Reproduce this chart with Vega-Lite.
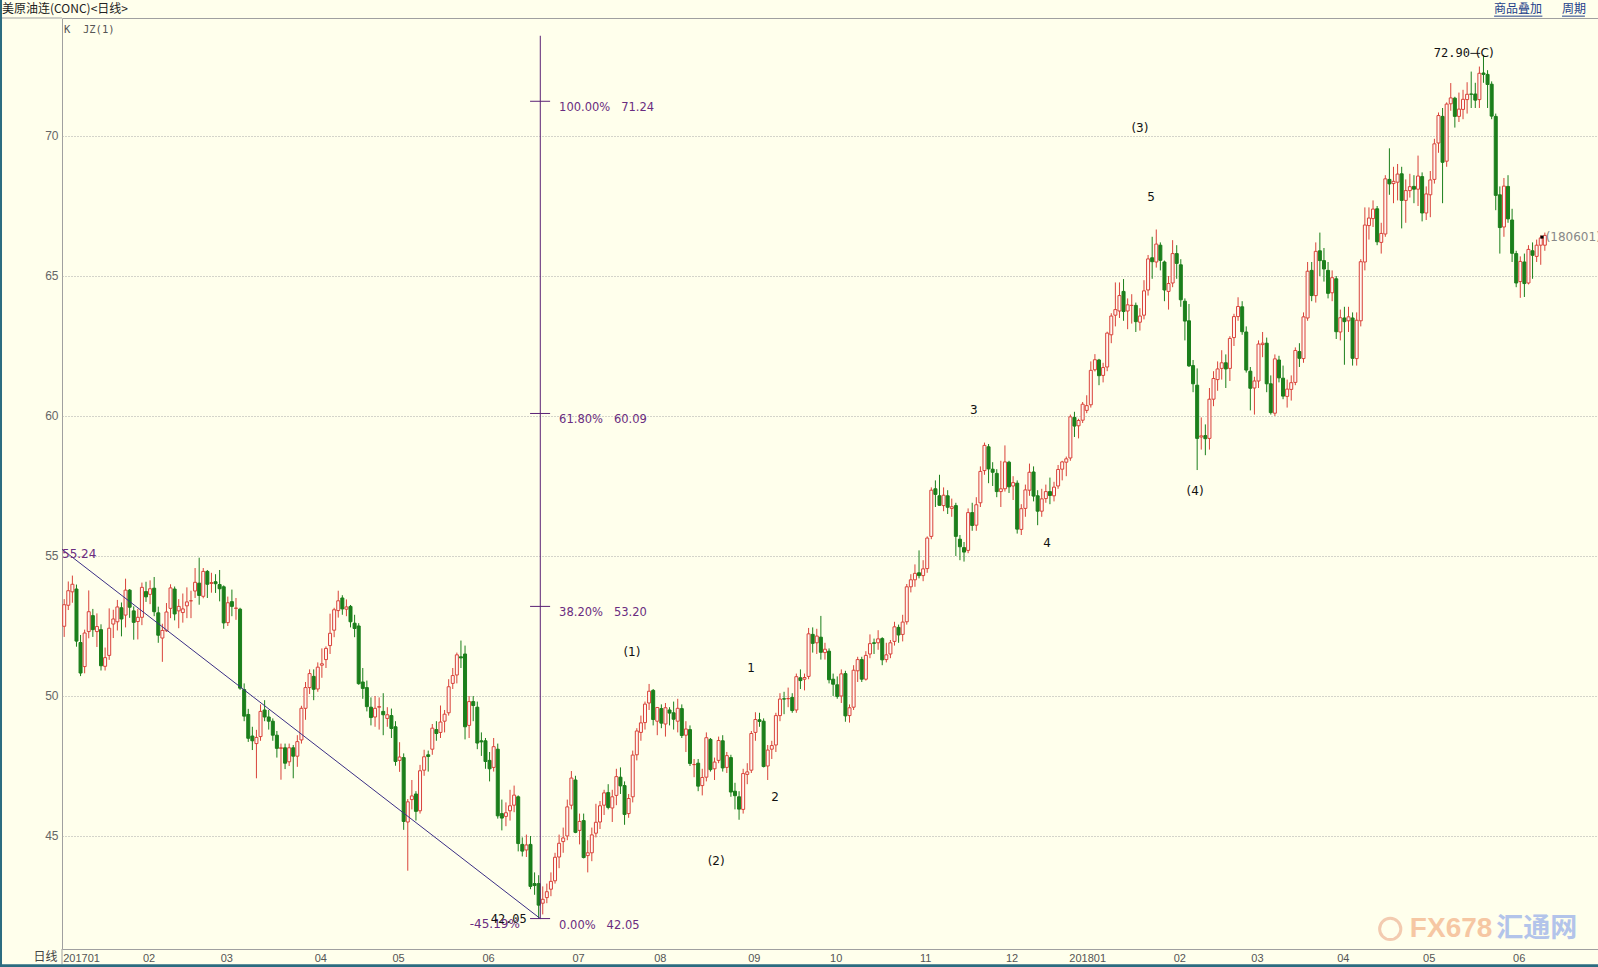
{
"$schema":"https://vega.github.io/schema/vega-lite/v6.json",
"width":1536,"height":931,
"autosize":{"type":"none"},
"padding":{"left":62,"top":18,"right":0,"bottom":18},
"background":"#FFFFEC",
"config":{"view":{"stroke":"#A0A0A0","strokeWidth":1},"axis":{"domain":false,"ticks":false}},
"datasets":{
"k":[
{"i":0,"o":52.49,"h":53.46,"l":52.11,"c":53.26},{"i":1,"o":53.24,"h":54.09,"l":53.07,"c":53.76},{"i":2,"o":53.72,"h":54.30,"l":53.33,"c":53.99},{"i":3,"o":53.82,"h":53.98,"l":51.76,"c":51.96},{"i":4,"o":51.91,"h":52.18,"l":50.71,"c":50.82},{"i":5,"o":51.05,"h":52.37,"l":50.81,"c":52.25},{"i":6,"o":52.30,"h":53.77,"l":52.06,"c":53.01},{"i":7,"o":52.87,"h":53.11,"l":52.11,"c":52.37},{"i":8,"o":52.30,"h":52.95,"l":51.75,"c":52.48},{"i":9,"o":52.37,"h":52.56,"l":50.91,"c":51.08},
{"i":10,"o":51.06,"h":51.73,"l":50.91,"c":51.37},{"i":11,"o":51.45,"h":53.13,"l":51.29,"c":52.42},{"i":12,"o":52.57,"h":53.08,"l":52.07,"c":52.75},{"i":13,"o":52.65,"h":53.43,"l":52.34,"c":53.18},{"i":14,"o":53.15,"h":53.34,"l":52.13,"c":52.75},{"i":15,"o":52.89,"h":54.19,"l":52.45,"c":53.78},{"i":16,"o":53.78,"h":53.82,"l":52.79,"c":53.17},{"i":17,"o":53.04,"h":53.20,"l":52.01,"c":52.63},{"i":18,"o":52.66,"h":53.11,"l":52.02,"c":52.81},{"i":19,"o":52.81,"h":54.05,"l":52.53,"c":53.88},
{"i":20,"o":53.73,"h":54.08,"l":53.36,"c":53.54},{"i":21,"o":53.63,"h":54.13,"l":53.28,"c":53.83},{"i":22,"o":53.85,"h":54.25,"l":52.85,"c":53.01},{"i":23,"o":52.97,"h":53.19,"l":51.90,"c":52.17},{"i":24,"o":52.07,"h":52.58,"l":51.22,"c":52.34},{"i":25,"o":52.33,"h":53.32,"l":52.29,"c":53.00},{"i":26,"o":53.13,"h":53.99,"l":52.78,"c":53.86},{"i":27,"o":53.82,"h":53.91,"l":52.70,"c":52.93},{"i":28,"o":53.04,"h":53.46,"l":52.42,"c":53.20},{"i":29,"o":52.98,"h":53.66,"l":52.62,"c":53.11},
{"i":30,"o":53.22,"h":53.88,"l":52.78,"c":53.36},{"i":31,"o":53.40,"h":53.76,"l":52.78,"c":53.40},{"i":32,"o":53.75,"h":54.57,"l":53.50,"c":54.06},{"i":33,"o":54.03,"h":54.94,"l":53.26,"c":53.59},{"i":34,"o":53.56,"h":54.57,"l":53.49,"c":54.45},{"i":35,"o":54.45,"h":54.50,"l":53.50,"c":53.99},{"i":36,"o":54.02,"h":54.40,"l":53.69,"c":54.05},{"i":37,"o":54.08,"h":54.35,"l":53.68,"c":54.01},{"i":38,"o":53.98,"h":54.50,"l":53.38,"c":53.83},{"i":39,"o":53.90,"h":53.95,"l":52.40,"c":52.61},
{"i":40,"o":52.62,"h":53.55,"l":52.50,"c":53.33},{"i":41,"o":53.37,"h":53.80,"l":52.85,"c":53.20},{"i":42,"o":53.13,"h":53.50,"l":52.72,"c":53.14},{"i":43,"o":53.10,"h":53.15,"l":50.22,"c":50.28},{"i":44,"o":50.23,"h":50.45,"l":49.10,"c":49.28},{"i":45,"o":49.34,"h":49.54,"l":48.36,"c":48.49},{"i":46,"o":48.57,"h":48.90,"l":48.07,"c":48.40},{"i":47,"o":48.30,"h":48.79,"l":47.06,"c":48.52},{"i":48,"o":48.55,"h":49.70,"l":48.40,"c":49.45},{"i":49,"o":49.50,"h":49.85,"l":49.10,"c":49.25},
{"i":50,"o":49.25,"h":49.50,"l":48.80,"c":49.10},{"i":51,"o":49.10,"h":49.20,"l":48.40,"c":48.60},{"i":52,"o":48.60,"h":48.75,"l":47.80,"c":48.13},{"i":53,"o":48.13,"h":48.30,"l":47.01,"c":48.15},{"i":54,"o":48.15,"h":48.30,"l":47.39,"c":47.60},{"i":55,"o":47.65,"h":48.30,"l":47.50,"c":48.15},{"i":56,"o":48.15,"h":48.25,"l":47.06,"c":47.85},{"i":57,"o":47.85,"h":48.60,"l":47.47,"c":48.37},{"i":58,"o":48.43,"h":49.65,"l":48.30,"c":49.56},{"i":59,"o":49.56,"h":50.50,"l":49.15,"c":50.30},
{"i":60,"o":50.30,"h":50.95,"l":50.07,"c":50.80},{"i":61,"o":50.70,"h":50.95,"l":49.85,"c":50.24},{"i":62,"o":50.25,"h":51.20,"l":50.15,"c":51.03},{"i":63,"o":51.10,"h":51.70,"l":50.65,"c":51.15},{"i":64,"o":51.30,"h":51.77,"l":51.00,"c":51.70},{"i":65,"o":51.80,"h":52.94,"l":51.50,"c":52.24},{"i":66,"o":52.35,"h":53.15,"l":52.10,"c":53.08},{"i":67,"o":53.05,"h":53.76,"l":52.80,"c":53.40},{"i":68,"o":53.50,"h":53.60,"l":52.90,"c":53.11},{"i":69,"o":53.10,"h":53.45,"l":52.85,"c":53.18},
{"i":70,"o":53.20,"h":53.25,"l":52.45,"c":52.65},{"i":71,"o":52.60,"h":52.90,"l":52.10,"c":52.41},{"i":72,"o":52.50,"h":52.60,"l":50.40,"c":50.44},{"i":73,"o":50.50,"h":51.00,"l":49.90,"c":50.27},{"i":74,"o":50.30,"h":50.55,"l":49.45,"c":49.62},{"i":75,"o":49.60,"h":49.95,"l":48.95,"c":49.23},{"i":76,"o":49.25,"h":50.00,"l":48.90,"c":49.56},{"i":77,"o":49.60,"h":49.95,"l":48.80,"c":49.62},{"i":78,"o":49.45,"h":50.10,"l":48.60,"c":49.33},{"i":79,"o":49.20,"h":49.60,"l":48.90,"c":49.33},
{"i":80,"o":49.30,"h":49.55,"l":48.50,"c":48.84},{"i":81,"o":48.90,"h":49.10,"l":47.51,"c":47.66},{"i":82,"o":47.70,"h":48.35,"l":47.29,"c":47.82},{"i":83,"o":47.80,"h":47.95,"l":45.22,"c":45.52},{"i":84,"o":45.50,"h":46.32,"l":43.76,"c":46.22},{"i":85,"o":46.30,"h":47.00,"l":45.95,"c":46.43},{"i":86,"o":46.50,"h":46.60,"l":45.55,"c":45.88},{"i":87,"o":45.90,"h":47.54,"l":45.80,"c":47.33},{"i":88,"o":47.35,"h":48.08,"l":47.15,"c":47.83},{"i":89,"o":47.90,"h":48.05,"l":47.30,"c":47.84},
{"i":90,"o":48.10,"h":49.00,"l":47.90,"c":48.85},{"i":91,"o":48.80,"h":49.10,"l":48.40,"c":48.66},{"i":92,"o":48.70,"h":49.66,"l":48.50,"c":49.07},{"i":93,"o":49.10,"h":49.50,"l":48.70,"c":49.35},{"i":94,"o":49.40,"h":50.60,"l":49.30,"c":50.33},{"i":95,"o":50.45,"h":51.00,"l":50.25,"c":50.73},{"i":96,"o":50.75,"h":51.55,"l":50.45,"c":51.47},{"i":97,"o":51.40,"h":51.98,"l":51.00,"c":51.36},{"i":98,"o":51.50,"h":51.80,"l":48.45,"c":48.90},{"i":99,"o":48.95,"h":50.00,"l":48.50,"c":49.80},
{"i":100,"o":49.80,"h":50.00,"l":49.10,"c":49.66},{"i":101,"o":49.60,"h":49.80,"l":48.10,"c":48.32},{"i":102,"o":48.40,"h":48.70,"l":47.86,"c":48.36},{"i":103,"o":48.40,"h":48.50,"l":47.40,"c":47.66},{"i":104,"o":47.70,"h":48.00,"l":46.95,"c":47.40},{"i":105,"o":47.45,"h":48.50,"l":47.30,"c":48.19},{"i":106,"o":48.10,"h":48.30,"l":45.62,"c":45.72},{"i":107,"o":45.80,"h":46.30,"l":45.20,"c":45.64},{"i":108,"o":45.70,"h":46.20,"l":45.35,"c":45.83},{"i":109,"o":45.90,"h":46.65,"l":45.55,"c":46.08},
{"i":110,"o":46.10,"h":46.80,"l":45.85,"c":46.46},{"i":111,"o":46.40,"h":46.45,"l":44.45,"c":44.73},{"i":112,"o":44.70,"h":44.95,"l":44.27,"c":44.46},{"i":113,"o":44.50,"h":45.05,"l":44.25,"c":44.68},{"i":114,"o":44.70,"h":45.00,"l":43.10,"c":43.20},{"i":115,"o":43.30,"h":43.70,"l":42.90,"c":43.23},{"i":116,"o":43.30,"h":43.60,"l":42.05,"c":42.53},{"i":117,"o":42.60,"h":43.20,"l":42.20,"c":42.74},{"i":118,"o":42.80,"h":43.30,"l":42.60,"c":43.01},{"i":119,"o":43.10,"h":43.70,"l":42.85,"c":43.38},
{"i":120,"o":43.40,"h":44.40,"l":43.30,"c":44.24},{"i":121,"o":44.25,"h":45.05,"l":43.85,"c":44.74},{"i":122,"o":44.80,"h":45.30,"l":44.40,"c":44.93},{"i":123,"o":45.00,"h":46.30,"l":44.85,"c":46.04},{"i":124,"o":46.10,"h":47.32,"l":45.95,"c":47.07},{"i":125,"o":47.00,"h":47.15,"l":45.10,"c":45.13},{"i":126,"o":45.20,"h":45.80,"l":44.70,"c":45.52},{"i":127,"o":45.55,"h":45.80,"l":44.20,"c":44.23},{"i":128,"o":44.30,"h":44.85,"l":43.70,"c":44.40},{"i":129,"o":44.40,"h":45.30,"l":44.10,"c":45.04},
{"i":130,"o":45.10,"h":46.15,"l":44.95,"c":45.49},{"i":131,"o":45.50,"h":46.25,"l":45.25,"c":46.08},{"i":132,"o":46.10,"h":46.65,"l":45.75,"c":46.54},{"i":133,"o":46.55,"h":46.85,"l":45.95,"c":46.02},{"i":134,"o":46.00,"h":46.65,"l":45.50,"c":46.40},{"i":135,"o":46.45,"h":47.40,"l":46.10,"c":47.12},{"i":136,"o":47.10,"h":47.45,"l":46.50,"c":46.79},{"i":137,"o":46.80,"h":46.95,"l":45.40,"c":45.77},{"i":138,"o":45.80,"h":46.50,"l":45.65,"c":46.34},{"i":139,"o":46.40,"h":48.05,"l":46.20,"c":47.89},
{"i":140,"o":47.90,"h":48.85,"l":47.70,"c":48.75},{"i":141,"o":48.70,"h":49.30,"l":48.40,"c":49.04},{"i":142,"o":49.05,"h":49.80,"l":48.80,"c":49.71},{"i":143,"o":49.75,"h":50.43,"l":49.50,"c":50.17},{"i":144,"o":50.20,"h":50.25,"l":48.95,"c":49.16},{"i":145,"o":49.10,"h":49.60,"l":48.60,"c":49.59},{"i":146,"o":49.55,"h":49.70,"l":48.85,"c":49.03},{"i":147,"o":49.00,"h":49.75,"l":48.55,"c":49.58},{"i":148,"o":49.50,"h":49.60,"l":48.95,"c":49.39},{"i":149,"o":49.40,"h":49.80,"l":48.80,"c":49.17},
{"i":150,"o":49.10,"h":49.90,"l":48.70,"c":49.56},{"i":151,"o":49.55,"h":49.70,"l":48.50,"c":48.59},{"i":152,"o":48.60,"h":49.10,"l":48.00,"c":48.82},{"i":153,"o":48.80,"h":48.95,"l":47.50,"c":47.59},{"i":154,"o":47.55,"h":47.75,"l":47.10,"c":47.55},{"i":155,"o":47.60,"h":47.75,"l":46.60,"c":46.78},{"i":156,"o":46.80,"h":47.40,"l":46.45,"c":47.09},{"i":157,"o":47.10,"h":48.70,"l":46.95,"c":48.51},{"i":158,"o":48.45,"h":48.50,"l":47.30,"c":47.37},{"i":159,"o":47.40,"h":47.80,"l":47.00,"c":47.64},
{"i":160,"o":47.70,"h":48.55,"l":47.60,"c":48.41},{"i":161,"o":48.40,"h":48.60,"l":47.30,"c":47.43},{"i":162,"o":47.45,"h":48.00,"l":47.25,"c":47.87},{"i":163,"o":47.80,"h":47.90,"l":46.40,"c":46.57},{"i":164,"o":46.60,"h":46.90,"l":45.95,"c":46.44},{"i":165,"o":46.40,"h":46.60,"l":45.58,"c":45.96},{"i":166,"o":45.95,"h":47.40,"l":45.80,"c":47.23},{"i":167,"o":47.20,"h":47.60,"l":46.85,"c":47.29},{"i":168,"o":47.35,"h":48.75,"l":47.25,"c":48.66},{"i":169,"o":48.70,"h":49.42,"l":48.40,"c":49.16},
{"i":170,"o":49.15,"h":49.40,"l":48.90,"c":49.09},{"i":171,"o":49.10,"h":49.20,"l":47.45,"c":47.48},{"i":172,"o":47.50,"h":48.25,"l":47.00,"c":48.07},{"i":173,"o":48.10,"h":48.40,"l":47.75,"c":48.23},{"i":174,"o":48.25,"h":49.40,"l":48.00,"c":49.30},{"i":175,"o":49.30,"h":50.10,"l":49.10,"c":49.89},{"i":176,"o":49.90,"h":50.15,"l":49.35,"c":49.89},{"i":177,"o":49.90,"h":50.30,"l":49.60,"c":49.91},{"i":178,"o":49.95,"h":50.10,"l":49.40,"c":49.48},{"i":179,"o":49.50,"h":50.80,"l":49.40,"c":50.69},
{"i":180,"o":50.65,"h":50.95,"l":50.25,"c":50.55},{"i":181,"o":50.60,"h":50.80,"l":50.20,"c":50.66},{"i":182,"o":50.70,"h":52.43,"l":50.60,"c":52.22},{"i":183,"o":52.20,"h":52.45,"l":51.55,"c":51.88},{"i":184,"o":51.90,"h":52.40,"l":51.50,"c":52.14},{"i":185,"o":52.10,"h":52.86,"l":51.30,"c":51.56},{"i":186,"o":51.55,"h":51.90,"l":51.30,"c":51.67},{"i":187,"o":51.60,"h":51.70,"l":50.45,"c":50.58},{"i":188,"o":50.60,"h":50.80,"l":50.00,"c":50.42},{"i":189,"o":50.40,"h":50.70,"l":49.90,"c":49.98},
{"i":190,"o":50.00,"h":50.95,"l":49.75,"c":50.79},{"i":191,"o":50.80,"h":50.90,"l":49.08,"c":49.29},{"i":192,"o":49.30,"h":49.70,"l":49.05,"c":49.58},{"i":193,"o":49.60,"h":51.10,"l":49.50,"c":50.92},{"i":194,"o":50.90,"h":51.40,"l":50.50,"c":51.30},{"i":195,"o":51.30,"h":51.40,"l":50.50,"c":50.60},{"i":196,"o":50.60,"h":51.60,"l":50.55,"c":51.45},{"i":197,"o":51.50,"h":52.20,"l":51.35,"c":51.87},{"i":198,"o":51.90,"h":52.05,"l":51.50,"c":51.88},{"i":199,"o":51.90,"h":52.35,"l":51.65,"c":52.04},
{"i":200,"o":52.05,"h":52.10,"l":51.10,"c":51.29},{"i":201,"o":51.30,"h":51.90,"l":51.20,"c":51.47},{"i":202,"o":51.50,"h":52.00,"l":51.35,"c":51.90},{"i":203,"o":51.95,"h":52.65,"l":51.80,"c":52.47},{"i":204,"o":52.45,"h":52.55,"l":51.90,"c":52.18},{"i":205,"o":52.20,"h":52.90,"l":51.95,"c":52.64},{"i":206,"o":52.65,"h":54.00,"l":52.55,"c":53.90},{"i":207,"o":53.90,"h":54.35,"l":53.70,"c":54.15},{"i":208,"o":54.15,"h":54.70,"l":53.90,"c":54.38},{"i":209,"o":54.40,"h":55.20,"l":54.20,"c":54.30},
{"i":210,"o":54.30,"h":54.85,"l":54.10,"c":54.54},{"i":211,"o":54.55,"h":55.70,"l":54.40,"c":55.64},{"i":212,"o":55.70,"h":57.45,"l":55.60,"c":57.35},{"i":213,"o":57.40,"h":57.70,"l":56.75,"c":57.20},{"i":214,"o":57.15,"h":57.90,"l":56.80,"c":56.81},{"i":215,"o":56.80,"h":57.45,"l":56.60,"c":57.17},{"i":216,"o":57.15,"h":57.35,"l":56.50,"c":56.74},{"i":217,"o":56.70,"h":57.05,"l":56.40,"c":56.76},{"i":218,"o":56.80,"h":56.90,"l":55.00,"c":55.70},{"i":219,"o":55.60,"h":55.75,"l":54.85,"c":55.33},
{"i":220,"o":55.30,"h":55.50,"l":54.80,"c":55.14},{"i":221,"o":55.20,"h":56.70,"l":55.10,"c":56.55},{"i":222,"o":56.55,"h":56.90,"l":55.90,"c":56.09},{"i":223,"o":56.10,"h":57.10,"l":55.90,"c":56.83},{"i":224,"o":56.90,"h":58.20,"l":56.75,"c":58.02},{"i":225,"o":58.05,"h":59.05,"l":57.90,"c":58.95},{"i":226,"o":58.90,"h":59.00,"l":57.60,"c":58.11},{"i":227,"o":58.10,"h":58.35,"l":57.50,"c":57.99},{"i":228,"o":57.95,"h":58.10,"l":57.10,"c":57.30},{"i":229,"o":57.30,"h":58.40,"l":56.75,"c":57.40},
{"i":230,"o":57.40,"h":58.95,"l":57.30,"c":58.36},{"i":231,"o":58.35,"h":58.40,"l":57.25,"c":57.47},{"i":232,"o":57.50,"h":57.85,"l":57.00,"c":57.62},{"i":233,"o":57.60,"h":57.70,"l":55.80,"c":55.96},{"i":234,"o":55.95,"h":56.85,"l":55.75,"c":56.69},{"i":235,"o":56.70,"h":57.55,"l":56.40,"c":57.36},{"i":236,"o":57.35,"h":58.30,"l":57.15,"c":57.99},{"i":237,"o":58.00,"h":58.20,"l":56.95,"c":57.14},{"i":238,"o":57.15,"h":57.35,"l":56.10,"c":56.60},{"i":239,"o":56.60,"h":57.40,"l":56.40,"c":57.04},
{"i":240,"o":57.05,"h":57.55,"l":56.90,"c":57.30},{"i":241,"o":57.30,"h":57.80,"l":56.85,"c":57.16},{"i":242,"o":57.15,"h":57.65,"l":56.95,"c":57.46},{"i":243,"o":57.50,"h":58.25,"l":57.40,"c":58.09},{"i":244,"o":58.10,"h":58.40,"l":57.70,"c":58.36},{"i":245,"o":58.35,"h":58.55,"l":57.85,"c":58.47},{"i":246,"o":58.50,"h":60.05,"l":58.40,"c":59.97},{"i":247,"o":59.95,"h":60.15,"l":59.25,"c":59.64},{"i":248,"o":59.65,"h":59.90,"l":59.20,"c":59.84},{"i":249,"o":59.85,"h":60.50,"l":59.75,"c":60.42},
{"i":250,"o":60.20,"h":60.74,"l":60.10,"c":60.37},{"i":251,"o":60.40,"h":61.95,"l":60.30,"c":61.63},{"i":252,"o":61.65,"h":62.21,"l":61.59,"c":62.01},{"i":253,"o":62.00,"h":62.04,"l":61.10,"c":61.44},{"i":254,"o":61.45,"h":61.90,"l":61.20,"c":61.73},{"i":255,"o":61.75,"h":63.01,"l":61.60,"c":62.96},{"i":256,"o":62.90,"h":63.67,"l":62.60,"c":63.57},{"i":257,"o":63.60,"h":64.77,"l":63.20,"c":63.80},{"i":258,"o":63.75,"h":64.77,"l":63.50,"c":64.30},{"i":259,"o":64.45,"h":64.89,"l":63.40,"c":63.73},
{"i":260,"o":63.75,"h":64.20,"l":63.10,"c":63.97},{"i":261,"o":63.95,"h":64.35,"l":63.30,"c":63.95},{"i":262,"o":63.95,"h":64.05,"l":63.00,"c":63.37},{"i":263,"o":63.35,"h":63.85,"l":63.05,"c":63.57},{"i":264,"o":63.60,"h":64.85,"l":63.45,"c":64.47},{"i":265,"o":64.50,"h":65.75,"l":64.30,"c":65.61},{"i":266,"o":65.65,"h":66.40,"l":64.90,"c":65.51},{"i":267,"o":65.50,"h":66.66,"l":65.30,"c":66.14},{"i":268,"o":66.10,"h":66.20,"l":65.20,"c":65.56},{"i":269,"o":65.50,"h":65.55,"l":64.10,"c":64.50},
{"i":270,"o":64.45,"h":65.00,"l":63.80,"c":64.73},{"i":271,"o":64.75,"h":66.28,"l":64.60,"c":65.80},{"i":272,"o":65.80,"h":66.10,"l":64.90,"c":65.45},{"i":273,"o":65.40,"h":65.60,"l":63.90,"c":64.15},{"i":274,"o":64.10,"h":64.20,"l":62.70,"c":63.39},{"i":275,"o":63.40,"h":64.00,"l":61.75,"c":61.79},{"i":276,"o":61.80,"h":62.00,"l":60.85,"c":61.15},{"i":277,"o":61.10,"h":61.70,"l":58.07,"c":59.20},{"i":278,"o":59.25,"h":59.95,"l":58.80,"c":59.29},{"i":279,"o":59.30,"h":59.70,"l":58.60,"c":59.19},
{"i":280,"o":59.20,"h":61.00,"l":58.80,"c":60.60},{"i":281,"o":60.60,"h":61.60,"l":60.35,"c":61.34},{"i":282,"o":61.30,"h":61.95,"l":60.90,"c":61.68},{"i":283,"o":61.70,"h":62.35,"l":61.30,"c":61.90},{"i":284,"o":61.90,"h":62.20,"l":61.00,"c":61.68},{"i":285,"o":61.70,"h":62.85,"l":61.25,"c":62.77},{"i":286,"o":62.80,"h":63.65,"l":62.50,"c":63.55},{"i":287,"o":63.55,"h":64.24,"l":63.40,"c":63.91},{"i":288,"o":63.90,"h":64.10,"l":62.90,"c":63.01},{"i":289,"o":63.00,"h":63.20,"l":61.55,"c":61.64},
{"i":290,"o":61.60,"h":61.75,"l":60.20,"c":60.99},{"i":291,"o":61.00,"h":61.40,"l":60.05,"c":61.25},{"i":292,"o":61.25,"h":62.70,"l":61.00,"c":62.57},{"i":293,"o":62.55,"h":63.00,"l":62.10,"c":62.60},{"i":294,"o":62.60,"h":62.80,"l":60.85,"c":61.15},{"i":295,"o":61.15,"h":61.45,"l":60.05,"c":60.12},{"i":296,"o":60.10,"h":62.20,"l":60.00,"c":62.04},{"i":297,"o":62.00,"h":62.15,"l":61.20,"c":61.36},{"i":298,"o":61.35,"h":61.80,"l":60.60,"c":60.71},{"i":299,"o":60.70,"h":61.30,"l":60.30,"c":60.96},
{"i":300,"o":60.95,"h":61.45,"l":60.55,"c":61.19},{"i":301,"o":61.20,"h":62.45,"l":61.10,"c":62.34},{"i":302,"o":62.30,"h":62.60,"l":61.75,"c":62.06},{"i":303,"o":62.05,"h":63.70,"l":61.90,"c":63.54},{"i":304,"o":63.50,"h":65.50,"l":63.40,"c":65.17},{"i":305,"o":65.20,"h":65.50,"l":64.10,"c":64.30},{"i":306,"o":64.30,"h":66.20,"l":64.05,"c":65.88},{"i":307,"o":65.90,"h":66.55,"l":65.00,"c":65.55},{"i":308,"o":65.55,"h":66.00,"l":64.80,"c":65.25},{"i":309,"o":65.20,"h":65.50,"l":64.20,"c":64.38},
{"i":310,"o":64.40,"h":65.20,"l":64.10,"c":64.94},{"i":311,"o":64.90,"h":65.00,"l":62.75,"c":63.01},{"i":312,"o":63.00,"h":63.80,"l":62.70,"c":63.51},{"i":313,"o":63.50,"h":63.90,"l":61.83,"c":63.37},{"i":314,"o":63.40,"h":63.90,"l":63.00,"c":63.54},{"i":315,"o":63.50,"h":63.70,"l":61.80,"c":62.06},{"i":316,"o":62.05,"h":63.70,"l":61.80,"c":63.42},{"i":317,"o":63.40,"h":65.60,"l":63.20,"c":65.51},{"i":318,"o":65.50,"h":67.45,"l":65.20,"c":66.82},{"i":319,"o":66.80,"h":67.45,"l":66.30,"c":67.07},
{"i":320,"o":67.05,"h":67.70,"l":66.75,"c":67.39},{"i":321,"o":67.40,"h":67.50,"l":66.10,"c":66.22},{"i":322,"o":66.20,"h":66.90,"l":65.80,"c":66.52},{"i":323,"o":66.50,"h":68.60,"l":66.40,"c":68.47},{"i":324,"o":68.45,"h":69.56,"l":67.90,"c":68.29},{"i":325,"o":68.30,"h":68.90,"l":67.60,"c":68.38},{"i":326,"o":68.35,"h":69.00,"l":67.70,"c":68.64},{"i":327,"o":68.65,"h":68.90,"l":66.70,"c":67.70},{"i":328,"o":67.70,"h":68.45,"l":66.90,"c":68.05},{"i":329,"o":68.05,"h":68.65,"l":67.80,"c":68.19},
{"i":330,"o":68.20,"h":68.60,"l":67.60,"c":68.10},{"i":331,"o":68.10,"h":69.30,"l":67.50,"c":68.57},{"i":332,"o":68.55,"h":68.70,"l":66.95,"c":67.25},{"i":333,"o":67.25,"h":68.20,"l":67.00,"c":67.93},{"i":334,"o":67.90,"h":68.75,"l":67.10,"c":68.43},{"i":335,"o":68.45,"h":69.90,"l":68.30,"c":69.72},{"i":336,"o":69.75,"h":70.84,"l":69.40,"c":70.73},{"i":337,"o":70.70,"h":71.00,"l":67.60,"c":69.06},{"i":338,"o":69.10,"h":71.20,"l":68.90,"c":71.14},{"i":339,"o":71.15,"h":71.89,"l":70.90,"c":71.36},
{"i":340,"o":71.35,"h":71.40,"l":70.30,"c":70.70},{"i":341,"o":70.70,"h":71.55,"l":70.50,"c":70.96},{"i":342,"o":70.95,"h":71.65,"l":70.60,"c":71.31},{"i":343,"o":71.30,"h":71.92,"l":70.80,"c":71.49},{"i":344,"o":71.50,"h":72.30,"l":71.00,"c":71.49},{"i":345,"o":71.50,"h":71.90,"l":71.00,"c":71.28},{"i":346,"o":71.30,"h":72.48,"l":71.00,"c":72.24},{"i":347,"o":72.25,"h":72.90,"l":71.90,"c":72.20},{"i":348,"o":72.20,"h":72.35,"l":71.00,"c":71.84},{"i":349,"o":71.85,"h":71.95,"l":70.60,"c":70.71},
{"i":350,"o":70.70,"h":70.80,"l":67.35,"c":67.88},{"i":351,"o":67.90,"h":68.20,"l":65.80,"c":66.73},{"i":352,"o":66.75,"h":68.50,"l":66.40,"c":68.21},{"i":353,"o":68.20,"h":68.60,"l":66.90,"c":67.04},{"i":354,"o":67.00,"h":67.40,"l":65.50,"c":65.81},{"i":355,"o":65.80,"h":65.90,"l":64.60,"c":64.75},{"i":356,"o":64.80,"h":65.70,"l":64.22,"c":65.52},{"i":357,"o":65.50,"h":65.80,"l":64.25,"c":64.73},{"i":358,"o":64.75,"h":66.10,"l":64.70,"c":65.95},{"i":359,"o":65.90,"h":66.20,"l":64.90,"c":65.74},
{"i":360,"o":65.70,"h":66.30,"l":65.50,"c":66.10},{"i":361,"o":66.10,"h":66.45,"l":65.40,"c":66.36},{"i":362,"o":66.10,"h":66.55,"l":65.90,"c":66.45}
],
"fib":[{"i":113.9,"i2":118.8,"x":121.0,"p":71.24,"t":"100.00%\u00a0\u00a0\u00a071.24"},{"i":113.9,"i2":118.8,"x":121.0,"p":60.09,"t":"61.80%\u00a0\u00a0\u00a060.09"},{"i":113.9,"i2":118.8,"x":121.0,"p":53.20,"t":"38.20%\u00a0\u00a0\u00a053.20"},{"i":113.9,"i2":118.8,"x":121.0,"p":42.05,"t":"0.00%\u00a0\u00a0\u00a042.05"}],
"trend":[{"i":-0.54,"p":55.24},{"i":116.4,"p":42.05}],
"waves":[{"i":138.8,"p":51.57,"t":"(1)"},{"i":159.4,"p":44.11,"t":"(2)"},{"i":167.96,"p":51.0,"t":"1"},{"i":173.8,"p":46.39,"t":"2"},{"i":222.4,"p":60.21,"t":"3"},{"i":240.3,"p":55.46,"t":"4"},{"i":265.7,"p":67.82,"t":"5"},{"i":263.0,"p":70.29,"t":"(3)"},{"i":276.5,"p":57.32,"t":"(4)"},{"i":347.3,"p":72.95,"t":"(C)"}]
},
"layer":[
{"data":{"name":"k"},"mark":{"type":"rule","strokeWidth":1},
 "encoding":{
  "x":{"field":"i","type":"quantitative","scale":{"domain":[-0.538,375.0],"nice":false,"zero":false,"padding":0},
   "axis":{"title":null,"values":[-0.5,19,38,61,80,102,124,144,167,187,209,230,250,271,290,311,332,354],
    "labelExpr":"['201701','02','03','04','05','06','07','08','09','10','11','12','201801','02','03','04','05','06'][indexof([-0.5,19,38,61,80,102,124,144,167,187,209,230,250,271,290,311,332,354], datum.value)]",
    "labelAlign":{"condition":{"test":"datum.value == 250","value":"center"},"value":"left"},
    "labelOffset":0.5,"labelFlush":false,"labelOverlap":false,"labelBound":false,"grid":false,
    "labelFont":"Liberation Sans","labelFontSize":11,"labelColor":"#555555","labelPadding":3}},
  "y":{"field":"l","type":"quantitative","scale":{"domain":[40.964,74.214],"nice":false,"zero":false,"padding":0},
   "axis":{"title":null,"values":[45,50,55,60,65,70],"grid":true,"gridColor":"#A8A8A8","gridDash":[1,2],"gridWidth":1,
    "labelFont":"Liberation Sans","labelFontSize":12,"labelColor":"#666666","labelPadding":4,"labelOverlap":false}},
  "y2":{"field":"h"},
  "color":{"condition":{"test":"datum.c >= datum.o","value":"#D9433A"},"value":"#1B7F1B"}}},
{"data":{"name":"k"},"mark":{"type":"bar","size":3,"strokeWidth":1},
 "encoding":{
  "x":{"field":"i","type":"quantitative","scale":{"domain":[-0.538,375.0],"nice":false,"zero":false,"padding":0}},
  "y":{"field":"o","type":"quantitative","scale":{"domain":[40.964,74.214],"nice":false,"zero":false,"padding":0}},
  "y2":{"field":"c"},
  "fill":{"condition":{"test":"datum.c >= datum.o","value":"#FFF8F2"},"value":"#1B7F1B"},
  "stroke":{"condition":{"test":"datum.c >= datum.o","value":"#D9433A"},"value":"#1B7F1B"}}},
{"data":{"name":"trend"},"mark":{"type":"line","color":"#3A2E85","strokeWidth":1},
 "encoding":{"x":{"field":"i","type":"quantitative"},"y":{"field":"p","type":"quantitative"}}},
{"data":{"values":[{"i":116.4,"p":42.05,"p2":73.58}]},"mark":{"type":"rule","color":"#5A2175","strokeWidth":1},
 "encoding":{"x":{"field":"i","type":"quantitative"},"y":{"field":"p","type":"quantitative"},"y2":{"field":"p2"}}},
{"data":{"name":"fib"},"mark":{"type":"rule","color":"#5A2175","strokeWidth":1},
 "encoding":{"x":{"field":"i","type":"quantitative"},"x2":{"field":"i2"},"y":{"field":"p","type":"quantitative"}}},
{"data":{"name":"fib"},"mark":{"type":"text","align":"left","baseline":"top","dy":1,"font":"DejaVu Sans","fontSize":11.5,"color":"#6A2C80"},
 "encoding":{"x":{"field":"x","type":"quantitative"},"y":{"field":"p","type":"quantitative"},"text":{"field":"t"}}},
{"data":{"values":[{"i":-0.54,"p":55.24,"t":"55.24"}]},"mark":{"type":"text","align":"left","baseline":"top","font":"DejaVu Sans","fontSize":12,"color":"#6A2C80"},
 "encoding":{"x":{"field":"i","type":"quantitative"},"y":{"field":"p","type":"quantitative"},"text":{"field":"t"}}},
{"data":{"values":[{"i":111.4,"p":42.05,"t":"-45.19%"}]},"mark":{"type":"text","align":"right","baseline":"top","font":"DejaVu Sans","fontSize":12,"color":"#6A2C80"},
 "encoding":{"x":{"field":"i","type":"quantitative"},"y":{"field":"p","type":"quantitative"},"text":{"field":"t"}}},
{"data":{"values":[{"i":113.1,"p":42.05,"t":"42.05"},{"i":343.7,"p":72.95,"t":"72.90"}]},"mark":{"type":"text","align":"right","baseline":"middle","font":"DejaVu Sans Mono","fontSize":12,"color":"#111111"},
 "encoding":{"x":{"field":"i","type":"quantitative"},"y":{"field":"p","type":"quantitative"},"text":{"field":"t"}}},
{"data":{"values":[{"i":343.8,"i2":346.2,"p":72.95}]},"mark":{"type":"rule","color":"#222222","strokeWidth":1},
 "encoding":{"x":{"field":"i","type":"quantitative"},"x2":{"field":"i2"},"y":{"field":"p","type":"quantitative"}}},
{"data":{"name":"waves"},"mark":{"type":"text","align":"center","baseline":"middle","font":"DejaVu Sans","fontSize":12,"color":"#111111"},
 "encoding":{"x":{"field":"i","type":"quantitative"},"y":{"field":"p","type":"quantitative"},"text":{"field":"t"}}},
{"data":{"values":[{"i":362.2,"p":66.39,"t":"(180601)"}]},"mark":{"type":"text","align":"left","baseline":"middle","font":"DejaVu Sans","fontSize":12,"color":"#888888"},
 "encoding":{"x":{"field":"i","type":"quantitative"},"y":{"field":"p","type":"quantitative"},"text":{"field":"t"}}},
{"data":{"values":[{"i":361.3,"p":66.39}]},"mark":{"type":"point","shape":"square","size":9,"filled":true,"color":"#000000","opacity":1},
 "encoding":{"x":{"field":"i","type":"quantitative"},"y":{"field":"p","type":"quantitative"}}},
{"data":{"values":[{"i":-15.2,"p":74.52,"t":"美原油连(CONC)<日线>"}]},"mark":{"type":"text","align":"left","baseline":"middle","font":"Noto Sans CJK SC","fontSize":12,"color":"#222222"},
 "encoding":{"x":{"field":"i","type":"quantitative"},"y":{"field":"p","type":"quantitative"},"text":{"field":"t"}}},
{"data":{"values":[{"i":-0.05,"p":73.79,"t":"K\u00a0\u00a0JZ(1)"}]},"mark":{"type":"text","align":"left","baseline":"middle","font":"DejaVu Sans Mono","fontSize":10.5,"color":"#555555"},
 "encoding":{"x":{"field":"i","type":"quantitative"},"y":{"field":"p","type":"quantitative"},"text":{"field":"t"}}},
{"data":{"values":[{"i":349.6,"p":74.53,"t":"商品叠加"},{"i":366.2,"p":74.53,"t":"周期"}]},"mark":{"type":"text","align":"left","baseline":"middle","font":"Noto Sans CJK SC","fontSize":12,"color":"#23408A"},
 "encoding":{"x":{"field":"i","type":"quantitative"},"y":{"field":"p","type":"quantitative"},"text":{"field":"t"}}},
{"data":{"values":[{"i":349.6,"i2":361.4,"p":74.28},{"i":366.2,"i2":371.8,"p":74.28}]},"mark":{"type":"rule","color":"#23408A","strokeWidth":1},
 "encoding":{"x":{"field":"i","type":"quantitative"},"x2":{"field":"i2"},"y":{"field":"p","type":"quantitative"}}},
{"data":{"values":[{"i":-15.6,"i2":-0.538,"p":74.214}]},"mark":{"type":"rule","color":"#A0A0A0","strokeWidth":1},
 "encoding":{"x":{"field":"i","type":"quantitative"},"x2":{"field":"i2"},"y":{"field":"p","type":"quantitative"}}},
{"data":{"values":[{"i":-1.66,"p":40.68,"t":"日线"}]},"mark":{"type":"text","align":"right","baseline":"middle","font":"Noto Sans CJK SC","fontSize":12,"color":"#444444"},
 "encoding":{"x":{"field":"i","type":"quantitative"},"y":{"field":"p","type":"quantitative"},"text":{"field":"t"}}},
{"data":{"values":[{"i":-0.538,"p":40.964,"p2":40.42}]},"mark":{"type":"rule","color":"#A0A0A0","strokeWidth":1},
 "encoding":{"x":{"field":"i","type":"quantitative"},"y":{"field":"p","type":"quantitative"},"y2":{"field":"p2"}}},
{"data":{"values":[{"i":-15.7,"i2":375.1,"p":40.37}]},"mark":{"type":"rule","color":"#2B6C80","strokeWidth":3},
 "encoding":{"x":{"field":"i","type":"quantitative"},"x2":{"field":"i2"},"y":{"field":"p","type":"quantitative"}}},
{"data":{"values":[{"i":-15.45,"p":40.36,"p2":74.86}]},"mark":{"type":"rule","color":"#2B6C80","strokeWidth":2},
 "encoding":{"x":{"field":"i","type":"quantitative"},"y":{"field":"p","type":"quantitative"},"y2":{"field":"p2"}}},
{"data":{"values":[{"i":324.2,"p":41.68}]},"mark":{"type":"point","shape":"circle","size":450,"filled":false,"strokeWidth":3,"color":"#F2C6AA","opacity":0.9},
 "encoding":{"x":{"field":"i","type":"quantitative"},"y":{"field":"p","type":"quantitative"}}},
{"data":{"values":[{"i":329.0,"p":41.68,"t":"FX678"}]},"mark":{"type":"text","align":"left","baseline":"middle","font":"Liberation Sans","fontSize":28,"fontWeight":"bold","color":"#F6C7A3"},
 "encoding":{"x":{"field":"i","type":"quantitative"},"y":{"field":"p","type":"quantitative"},"text":{"field":"t"}}},
{"data":{"values":[{"i":350.1,"p":41.68,"t":"汇通网"}]},"mark":{"type":"text","align":"left","baseline":"middle","font":"Noto Sans CJK SC","fontSize":27,"fontWeight":"bold","color":"#B3C4EA"},
 "encoding":{"x":{"field":"i","type":"quantitative"},"y":{"field":"p","type":"quantitative"},"text":{"field":"t"}}}
]
}
